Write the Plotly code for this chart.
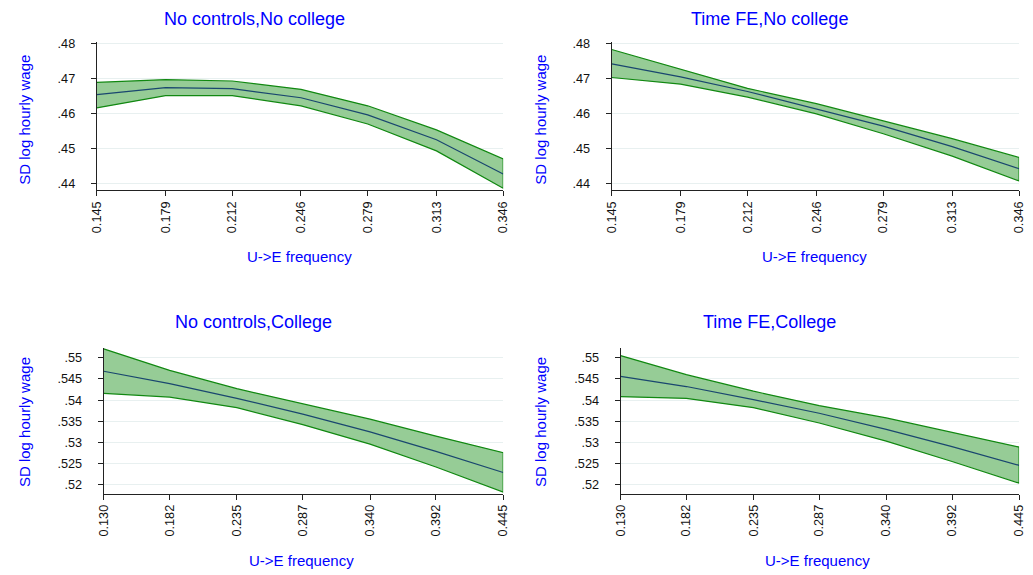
import plotly.graph_objects as go

# ---- data ----
x_top = [0.145, 0.179, 0.212, 0.246, 0.279, 0.313, 0.346]
x_top_labels = ["0.145", "0.179", "0.212", "0.246", "0.279", "0.313", "0.346"]
x_bot = [0.130, 0.182, 0.235, 0.287, 0.340, 0.392, 0.445]
x_bot_labels = ["0.130", "0.182", "0.235", "0.287", "0.340", "0.392", "0.445"]

nc_nocol_mean = [0.4655, 0.4675, 0.4672, 0.4646, 0.4597, 0.4526, 0.4428]
nc_nocol_hi = [0.4690, 0.4698, 0.4694, 0.4670, 0.4623, 0.4554, 0.4471]
nc_nocol_lo = [0.4617, 0.4652, 0.4652, 0.4623, 0.4571, 0.4494, 0.4387]

fe_nocol_mean = [0.4743, 0.4706, 0.4664, 0.4614, 0.4565, 0.4506, 0.4443]
fe_nocol_hi = [0.4784, 0.4727, 0.4673, 0.4629, 0.4579, 0.4529, 0.4475]
fe_nocol_lo = [0.4704, 0.4685, 0.4648, 0.4600, 0.4543, 0.4479, 0.4408]

nc_col_mean = [0.5468, 0.5439, 0.5404, 0.5367, 0.5325, 0.5279, 0.5229]
nc_col_hi = [0.5521, 0.5470, 0.5427, 0.5391, 0.5355, 0.5315, 0.5276]
nc_col_lo = [0.5416, 0.5407, 0.5382, 0.5342, 0.5296, 0.5242, 0.5183]

fe_col_mean = [0.5456, 0.5432, 0.5401, 0.5369, 0.5331, 0.5290, 0.5246]
fe_col_hi = [0.5505, 0.5460, 0.5421, 0.5387, 0.5358, 0.5323, 0.5289]
fe_col_lo = [0.5408, 0.5404, 0.5382, 0.5346, 0.5303, 0.5255, 0.5204]

y_top_ticks = [0.44, 0.45, 0.46, 0.47, 0.48]
y_top_labels = [".44", ".45", ".46", ".47", ".48"]
y_bot_ticks = [0.52, 0.525, 0.53, 0.535, 0.54, 0.545, 0.55]
y_bot_labels = [".52", ".525", ".53", ".535", ".54", ".545", ".55"]

titles = ["No controls,No college", "Time FE,No college", "No controls,College", "Time FE,College"]
xlabel = "U->E frequency"
ylabel = "SD log hourly wage"

# ---- layout geometry (pixels) ----
W, H = 1033, 575
FONT = "Liberation Sans, Arial, sans-serif"
BLUE = "#0000ff"
FILL = "rgba(150,204,150,1)"
EDGE = "#118811"
MEAN = "#1a476f"
GRID = "#e8f0f0"
AXIS = "#222222"

panels = [
    dict(x=x_top, xt=x_top_labels, m=nc_nocol_mean, hi=nc_nocol_hi, lo=nc_nocol_lo,
         px=(91, 503), py=(38, 188), yr=(0.4381, 0.48065), yt=y_top_ticks, ytl=y_top_labels,
         tpos=(251, 15), ylab=(18, 117), xlab=(297, 255)),
    dict(x=x_top, xt=x_top_labels, m=fe_nocol_mean, hi=fe_nocol_hi, lo=fe_nocol_lo,
         px=(613, 1026), py=(38, 188), yr=(0.4381, 0.48065), yt=y_top_ticks, ytl=y_top_labels,
         tpos=(773, 15), ylab=(541, 117), xlab=(819, 255)),
    dict(x=x_bot, xt=x_bot_labels, m=nc_col_mean, hi=nc_col_hi, lo=nc_col_lo,
         px=(98, 503), py=(347, 494), yr=(0.5179, 0.5523), yt=y_bot_ticks, ytl=y_bot_labels,
         tpos=(250, 321), ylab=(18, 422), xlab=(299, 561)),
    dict(x=x_bot, xt=x_bot_labels, m=fe_col_mean, hi=fe_col_hi, lo=fe_col_lo,
         px=(622, 1026), py=(347, 494), yr=(0.5179, 0.5523), yt=y_bot_ticks, ytl=y_bot_labels,
         tpos=(773, 321), ylab=(541, 422), xlab=(822, 561)),
]

fig = go.Figure()
annotations = []
for i, p in enumerate(panels):
    n = "" if i == 0 else str(i + 1)
    xa, ya = "x" + n, "y" + n
    # band
    fig.add_trace(go.Scatter(x=p["x"] + p["x"][::-1], y=p["hi"] + p["lo"][::-1],
                             fill="toself", fillcolor=FILL, mode="lines",
                             line=dict(color=EDGE, width=1.2), xaxis=xa, yaxis=ya,
                             showlegend=False, hoverinfo="skip"))
    fig.add_trace(go.Scatter(x=p["x"], y=p["m"], mode="lines",
                             line=dict(color=MEAN, width=1.2), xaxis=xa, yaxis=ya,
                             showlegend=False))
    x0, x1 = p["px"]
    y0, y1 = p["py"]
    fig.update_layout(**{
        "xaxis" + n: dict(domain=[x0 / W, x1 / W], anchor=ya, range=[p["x"][0], p["x"][-1]],
                          tickvals=p["x"], ticktext=p["xt"], tickangle=-90,
                          ticks="outside", ticklen=5, tickcolor=AXIS, showgrid=False,
                          showline=True, linecolor=AXIS, linewidth=1, zeroline=False,
                          tickfont=dict(family=FONT, size=12.7, color="#111111")),
        "yaxis" + n: dict(domain=[1 - y1 / H, 1 - y0 / H], anchor=xa, range=list(p["yr"]),
                          tickvals=p["yt"], ticktext=p["ytl"], ticks="outside", ticklen=5,
                          tickcolor=AXIS, showgrid=True, gridcolor=GRID, gridwidth=1,
                          showline=True, linecolor=AXIS, linewidth=1, zeroline=False,
                          ticklabelstandoff=13,
                          tickfont=dict(family=FONT, size=12.7, color="#111111")),
    })
    annotations.append(dict(text=titles[i], x=p["tpos"][0] / W, y=1 - p["tpos"][1] / H,
                            xref="paper", yref="paper", showarrow=False,
                            xanchor="center", yanchor="middle",
                            font=dict(family=FONT, size=18, color=BLUE)))
    annotations.append(dict(text=ylabel, x=p["ylab"][0] / W, y=1 - p["ylab"][1] / H,
                            xref="paper", yref="paper", showarrow=False, textangle=-90,
                            xanchor="center", yanchor="middle",
                            font=dict(family=FONT, size=15, color=BLUE)))
    annotations.append(dict(text=xlabel, x=p["xlab"][0] / W, y=1 - p["xlab"][1] / H,
                            xref="paper", yref="paper", showarrow=False,
                            xanchor="center", yanchor="middle",
                            font=dict(family=FONT, size=15, color=BLUE)))

fig.update_layout(width=W, height=H, margin=dict(l=0, r=0, t=0, b=0),
                  paper_bgcolor="white", plot_bgcolor="white",
                  annotations=annotations, showlegend=False)

fig.write_html("out.html")
